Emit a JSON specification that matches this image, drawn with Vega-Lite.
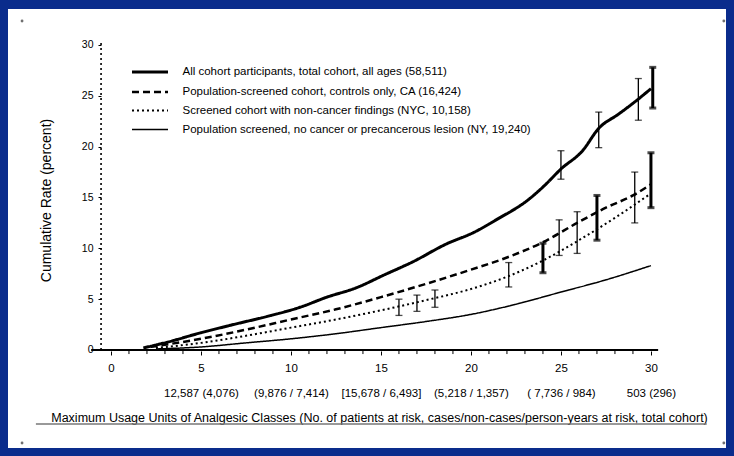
{
  "$schema": "https://vega.github.io/schema/vega-lite/v6.json",
  "width": 718,
  "height": 439,
  "autosize": {"type": "none"},
  "padding": {"left": 8, "top": 9, "right": 8, "bottom": 8},
  "background": "#0a2c8c",
  "config": {
    "view": {"fill": "white", "stroke": null},
    "font": "Liberation Sans",
    "axis": {"grid": false, "domain": false, "labelOverlap": false, "labelColor": "black", "titleColor": "black", "tickColor": "black", "titleFontWeight": "normal", "labelFont": "Liberation Sans", "titleFont": "Liberation Sans"}
  },
  "datasets": {
    "curves": [
      {"series": "All cohort participants, total cohort, all ages (58,511)", "year": 1.8, "rate": 0.2},
      {"series": "All cohort participants, total cohort, all ages (58,511)", "year": 3.2, "rate": 0.8},
      {"series": "All cohort participants, total cohort, all ages (58,511)", "year": 5, "rate": 1.7},
      {"series": "All cohort participants, total cohort, all ages (58,511)", "year": 6.8, "rate": 2.5},
      {"series": "All cohort participants, total cohort, all ages (58,511)", "year": 8.9, "rate": 3.4},
      {"series": "All cohort participants, total cohort, all ages (58,511)", "year": 10.5, "rate": 4.2},
      {"series": "All cohort participants, total cohort, all ages (58,511)", "year": 12, "rate": 5.2},
      {"series": "All cohort participants, total cohort, all ages (58,511)", "year": 13.6, "rate": 6.1},
      {"series": "All cohort participants, total cohort, all ages (58,511)", "year": 15.2, "rate": 7.4},
      {"series": "All cohort participants, total cohort, all ages (58,511)", "year": 16.8, "rate": 8.7},
      {"series": "All cohort participants, total cohort, all ages (58,511)", "year": 18.6, "rate": 10.4},
      {"series": "All cohort participants, total cohort, all ages (58,511)", "year": 20.2, "rate": 11.6},
      {"series": "All cohort participants, total cohort, all ages (58,511)", "year": 21.4, "rate": 12.8},
      {"series": "All cohort participants, total cohort, all ages (58,511)", "year": 23.2, "rate": 14.8},
      {"series": "All cohort participants, total cohort, all ages (58,511)", "year": 24.1, "rate": 16.2},
      {"series": "All cohort participants, total cohort, all ages (58,511)", "year": 25, "rate": 17.8},
      {"series": "All cohort participants, total cohort, all ages (58,511)", "year": 26.2, "rate": 19.6},
      {"series": "All cohort participants, total cohort, all ages (58,511)", "year": 27.1, "rate": 21.8},
      {"series": "All cohort participants, total cohort, all ages (58,511)", "year": 28.2, "rate": 23.2},
      {"series": "All cohort participants, total cohort, all ages (58,511)", "year": 29.1, "rate": 24.4},
      {"series": "All cohort participants, total cohort, all ages (58,511)", "year": 30, "rate": 25.7},
      {"series": "Population-screened cohort, controls only, CA (16,424)", "year": 2.2, "rate": 0.3},
      {"series": "Population-screened cohort, controls only, CA (16,424)", "year": 5, "rate": 1.1},
      {"series": "Population-screened cohort, controls only, CA (16,424)", "year": 7.5, "rate": 2.0},
      {"series": "Population-screened cohort, controls only, CA (16,424)", "year": 10, "rate": 3.0},
      {"series": "Population-screened cohort, controls only, CA (16,424)", "year": 12.5, "rate": 4.0},
      {"series": "Population-screened cohort, controls only, CA (16,424)", "year": 15, "rate": 5.2},
      {"series": "Population-screened cohort, controls only, CA (16,424)", "year": 17.5, "rate": 6.5},
      {"series": "Population-screened cohort, controls only, CA (16,424)", "year": 20, "rate": 7.9},
      {"series": "Population-screened cohort, controls only, CA (16,424)", "year": 22, "rate": 9.1},
      {"series": "Population-screened cohort, controls only, CA (16,424)", "year": 24, "rate": 10.6},
      {"series": "Population-screened cohort, controls only, CA (16,424)", "year": 26, "rate": 12.6},
      {"series": "Population-screened cohort, controls only, CA (16,424)", "year": 27.5, "rate": 14.0},
      {"series": "Population-screened cohort, controls only, CA (16,424)", "year": 29, "rate": 15.2},
      {"series": "Population-screened cohort, controls only, CA (16,424)", "year": 30, "rate": 16.3},
      {"series": "Screened cohort with non-cancer findings (NYC, 10,158)", "year": 2.5, "rate": 0.2},
      {"series": "Screened cohort with non-cancer findings (NYC, 10,158)", "year": 5, "rate": 0.7},
      {"series": "Screened cohort with non-cancer findings (NYC, 10,158)", "year": 7.5, "rate": 1.4},
      {"series": "Screened cohort with non-cancer findings (NYC, 10,158)", "year": 10, "rate": 2.2},
      {"series": "Screened cohort with non-cancer findings (NYC, 10,158)", "year": 12.5, "rate": 3.0},
      {"series": "Screened cohort with non-cancer findings (NYC, 10,158)", "year": 15, "rate": 3.9},
      {"series": "Screened cohort with non-cancer findings (NYC, 10,158)", "year": 17.5, "rate": 4.9},
      {"series": "Screened cohort with non-cancer findings (NYC, 10,158)", "year": 20, "rate": 6.0},
      {"series": "Screened cohort with non-cancer findings (NYC, 10,158)", "year": 22, "rate": 7.2},
      {"series": "Screened cohort with non-cancer findings (NYC, 10,158)", "year": 24, "rate": 8.8},
      {"series": "Screened cohort with non-cancer findings (NYC, 10,158)", "year": 26, "rate": 10.8},
      {"series": "Screened cohort with non-cancer findings (NYC, 10,158)", "year": 28, "rate": 13.0},
      {"series": "Screened cohort with non-cancer findings (NYC, 10,158)", "year": 30, "rate": 15.4},
      {"series": "Population screened, no cancer or precancerous lesion (NY, 19,240)", "year": 2.5, "rate": 0.1},
      {"series": "Population screened, no cancer or precancerous lesion (NY, 19,240)", "year": 5, "rate": 0.3},
      {"series": "Population screened, no cancer or precancerous lesion (NY, 19,240)", "year": 7.5, "rate": 0.7},
      {"series": "Population screened, no cancer or precancerous lesion (NY, 19,240)", "year": 10, "rate": 1.1},
      {"series": "Population screened, no cancer or precancerous lesion (NY, 19,240)", "year": 12.5, "rate": 1.6},
      {"series": "Population screened, no cancer or precancerous lesion (NY, 19,240)", "year": 15, "rate": 2.2},
      {"series": "Population screened, no cancer or precancerous lesion (NY, 19,240)", "year": 17.5, "rate": 2.8},
      {"series": "Population screened, no cancer or precancerous lesion (NY, 19,240)", "year": 20, "rate": 3.5},
      {"series": "Population screened, no cancer or precancerous lesion (NY, 19,240)", "year": 22.5, "rate": 4.5},
      {"series": "Population screened, no cancer or precancerous lesion (NY, 19,240)", "year": 25, "rate": 5.7},
      {"series": "Population screened, no cancer or precancerous lesion (NY, 19,240)", "year": 27.5, "rate": 6.9},
      {"series": "Population screened, no cancer or precancerous lesion (NY, 19,240)", "year": 30, "rate": 8.3}
    ],
    "bars": [
      {"year": 25.0, "lo": 16.8, "hi": 19.6, "group": "B"},
      {"year": 27.1, "lo": 19.9, "hi": 23.4, "group": "B"},
      {"year": 29.3, "lo": 22.6, "hi": 26.7, "group": "B"},
      {"year": 30.1, "lo": 23.8, "hi": 27.8, "group": "A"},
      {"year": 22.1, "lo": 6.2, "hi": 8.6, "group": "B"},
      {"year": 24.0, "lo": 7.6, "hi": 10.5, "group": "A"},
      {"year": 24.9, "lo": 9.3, "hi": 12.8, "group": "B"},
      {"year": 25.9, "lo": 9.5, "hi": 13.6, "group": "B"},
      {"year": 27.0, "lo": 10.8, "hi": 15.2, "group": "A"},
      {"year": 29.1, "lo": 12.5, "hi": 17.5, "group": "B"},
      {"year": 30.0, "lo": 14.0, "hi": 19.4, "group": "A"},
      {"year": 16.0, "lo": 3.4, "hi": 5.0, "group": "B"},
      {"year": 17.0, "lo": 3.8, "hi": 5.4, "group": "B"},
      {"year": 18.0, "lo": 4.2, "hi": 5.9, "group": "B"}
    ],
    "yearTicks": [
      {"year": 1}, {"year": 2}, {"year": 3}, {"year": 4}, {"year": 6}, {"year": 7}, {"year": 8}, {"year": 9},
      {"year": 11}, {"year": 12}, {"year": 13}, {"year": 14}, {"year": 16}, {"year": 17}, {"year": 18}, {"year": 19},
      {"year": 21}, {"year": 22}, {"year": 23}, {"year": 24}, {"year": 26}, {"year": 27}, {"year": 28}, {"year": 29}
    ],
    "corners": [
      {"year": -4.94, "rate": 32.36},
      {"year": 34.05, "rate": 32.36},
      {"year": -4.94, "rate": -9.15},
      {"year": 34.05, "rate": -9.15}
    ]
  },
  "layer": [
    {
      "data": {"name": "curves"},
      "mark": {"type": "line", "interpolate": "monotone", "color": "black"},
      "encoding": {
        "x": {
          "field": "year", "type": "quantitative",
          "scale": {"domain": [-5.72, 34.17], "nice": false, "zero": false},
          "title": "Maximum Usage Units of Analgesic Classes (No. of patients at risk, cases/non-cases/person-years at risk, total cohort)",
          "axis": {
            "values": [0, 5, 10, 15, 20, 25, 30],
            "labelExpr": "datum.value == 5 ? ['5', '12,587 (4,076)'] : datum.value == 10 ? ['10', '(9,876 / 7,414)'] : datum.value == 15 ? ['15', '[15,678 / 6,493]'] : datum.value == 20 ? ['20', '(5,218 / 1,357)'] : datum.value == 25 ? ['25', '( 7,736 / 984)'] : datum.value == 30 ? ['30', '503 (296)'] : '0'",
            "offset": -97, "tickSize": 4, "labelPadding": 7, "labelFontSize": 11.5, "labelLineHeight": 25,
            "labelOverlap": false, "labelFlush": false, "titleFontSize": 12.5, "titlePadding": 13, "titleX": 371
          }
        },
        "y": {
          "field": "rate", "type": "quantitative",
          "scale": {"domain": [-9.64, 33.54], "nice": false, "zero": false},
          "title": "Cumulative Rate (percent)",
          "axis": {
            "values": [0, 5, 10, 15, 20, 25, 30], "offset": -93, "tickSize": 3, "labelPadding": 5,
            "labelFontSize": 10.5, "titleFontSize": 14, "titlePadding": 28, "titleY": 191
          }
        },
        "strokeDash": {
          "field": "series", "type": "nominal",
          "scale": {
            "domain": ["All cohort participants, total cohort, all ages (58,511)", "Population-screened cohort, controls only, CA (16,424)", "Screened cohort with non-cancer findings (NYC, 10,158)", "Population screened, no cancer or precancerous lesion (NY, 19,240)"],
            "range": [[1, 0], [7, 4], [2, 3], [1, 0]]
          },
          "legend": {
            "orient": "none", "legendX": 134.5, "legendY": 55.5, "title": null, "padding": 0,
            "symbolType": "M-3,0H3", "symbolSize": 144, "symbolStrokeColor": "black", "symbolFillColor": "transparent",
            "labelFontSize": 11.5, "labelColor": "black", "labelOffset": 25, "rowPadding": 6, "labelLimit": 500
          }
        },
        "strokeWidth": {
          "field": "series", "type": "nominal",
          "scale": {
            "domain": ["All cohort participants, total cohort, all ages (58,511)", "Population-screened cohort, controls only, CA (16,424)", "Screened cohort with non-cancer findings (NYC, 10,158)", "Population screened, no cancer or precancerous lesion (NY, 19,240)"],
            "range": [3, 1.5, 1.6, 1.2]
          },
          "legend": {
            "orient": "none", "legendX": 134.5, "legendY": 55.5, "title": null, "padding": 0,
            "symbolType": "M-3,0H3", "symbolSize": 144, "symbolStrokeColor": "black", "symbolFillColor": "transparent",
            "labelFontSize": 11.5, "labelColor": "black", "labelOffset": 25, "rowPadding": 6, "labelLimit": 500
          }
        }
      }
    },
    {
      "data": {"name": "bars"},
      "transform": [{"filter": "datum.group == 'A'"}],
      "mark": {"type": "errorbar", "ticks": {"size": 7}, "thickness": 3, "color": "black"},
      "encoding": {
        "x": {"field": "year", "type": "quantitative", "title": "Maximum Usage Units of Analgesic Classes (No. of patients at risk, cases/non-cases/person-years at risk, total cohort)", "scale": {"domain": [-5.72, 34.17], "nice": false, "zero": false}},
        "y": {"field": "lo", "type": "quantitative", "title": "Cumulative Rate (percent)", "scale": {"domain": [-9.64, 33.54], "nice": false, "zero": false}},
        "y2": {"field": "hi"}
      }
    },
    {
      "data": {"name": "bars"},
      "transform": [{"filter": "datum.group == 'B'"}],
      "mark": {"type": "errorbar", "ticks": {"size": 7}, "thickness": 1.3, "color": "black"},
      "encoding": {
        "x": {"field": "year", "type": "quantitative", "title": "Maximum Usage Units of Analgesic Classes (No. of patients at risk, cases/non-cases/person-years at risk, total cohort)", "scale": {"domain": [-5.72, 34.17], "nice": false, "zero": false}},
        "y": {"field": "lo", "type": "quantitative", "title": "Cumulative Rate (percent)", "scale": {"domain": [-9.64, 33.54], "nice": false, "zero": false}},
        "y2": {"field": "hi"}
      }
    },
    {
      "data": {"name": "yearTicks"},
      "mark": {"type": "rule", "color": "black", "strokeWidth": 1},
      "encoding": {
        "x": {"field": "year", "type": "quantitative", "title": "Maximum Usage Units of Analgesic Classes (No. of patients at risk, cases/non-cases/person-years at risk, total cohort)", "scale": {"domain": [-5.72, 34.17], "nice": false, "zero": false}},
        "y": {"datum": 0, "type": "quantitative", "title": "Cumulative Rate (percent)", "scale": {"domain": [-9.64, 33.54], "nice": false, "zero": false}},
        "y2": {"datum": -0.4}
      }
    },
    {
      "data": {"values": [{}]},
      "mark": {"type": "rule", "color": "black", "strokeWidth": 2},
      "encoding": {
        "x": {"datum": -1.1, "type": "quantitative", "title": "Maximum Usage Units of Analgesic Classes (No. of patients at risk, cases/non-cases/person-years at risk, total cohort)", "scale": {"domain": [-5.72, 34.17], "nice": false, "zero": false}},
        "x2": {"datum": 30.4},
        "y": {"datum": 0, "type": "quantitative", "title": "Cumulative Rate (percent)", "scale": {"domain": [-9.64, 33.54], "nice": false, "zero": false}}
      }
    },
    {
      "data": {"values": [{}]},
      "mark": {"type": "rule", "color": "black", "strokeWidth": 1.6, "strokeDash": [2, 3]},
      "encoding": {
        "x": {"datum": -0.55, "type": "quantitative", "title": "Maximum Usage Units of Analgesic Classes (No. of patients at risk, cases/non-cases/person-years at risk, total cohort)", "scale": {"domain": [-5.72, 34.17], "nice": false, "zero": false}},
        "y": {"datum": 0, "type": "quantitative", "title": "Cumulative Rate (percent)", "scale": {"domain": [-9.64, 33.54], "nice": false, "zero": false}},
        "y2": {"datum": 30.3}
      }
    },
    {
      "data": {"values": [{}]},
      "mark": {"type": "rule", "color": "#777777", "strokeWidth": 1.5},
      "encoding": {
        "x": {"datum": -4.17, "type": "quantitative", "title": "Maximum Usage Units of Analgesic Classes (No. of patients at risk, cases/non-cases/person-years at risk, total cohort)", "scale": {"domain": [-5.72, 34.17], "nice": false, "zero": false}},
        "x2": {"datum": 33.1},
        "y": {"datum": -7.28, "type": "quantitative", "title": "Cumulative Rate (percent)", "scale": {"domain": [-9.64, 33.54], "nice": false, "zero": false}}
      }
    },
    {
      "data": {"name": "corners"},
      "mark": {"type": "point", "filled": true, "color": "#333333", "size": 8},
      "encoding": {
        "x": {"field": "year", "type": "quantitative", "title": "Maximum Usage Units of Analgesic Classes (No. of patients at risk, cases/non-cases/person-years at risk, total cohort)", "scale": {"domain": [-5.72, 34.17], "nice": false, "zero": false}},
        "y": {"field": "rate", "type": "quantitative", "title": "Cumulative Rate (percent)", "scale": {"domain": [-9.64, 33.54], "nice": false, "zero": false}}
      }
    }
  ]
}
